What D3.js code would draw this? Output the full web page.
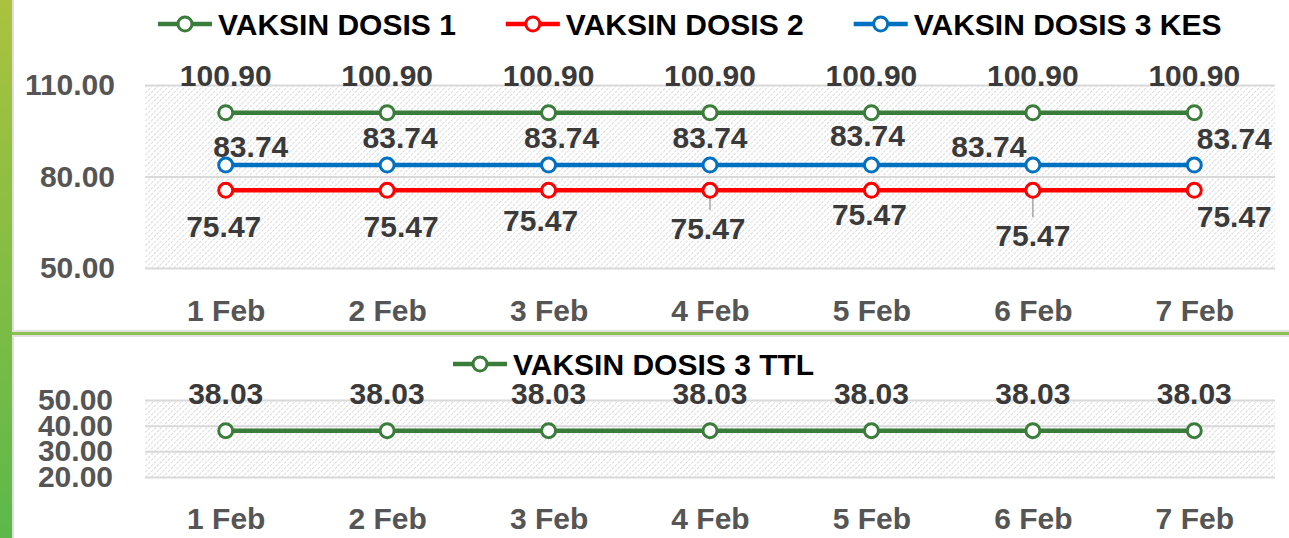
<!DOCTYPE html>
<html>
<head>
<meta charset="utf-8">
<script src="https://cdn.jsdelivr.net/npm/d3@7"></script>
<style>
  body { margin: 0; background: #fff; }
  svg text { font-family: "Liberation Sans", Arial, sans-serif; font-weight: bold; }
</style>
</head>
<body>
<svg id="chart" width="1289" height="538"></svg>
<script>
// data
const dates = ["1 Feb", "2 Feb", "3 Feb", "4 Feb", "5 Feb", "6 Feb", "7 Feb"];
const dosis1 = [100.90, 100.90, 100.90, 100.90, 100.90, 100.90, 100.90];
const dosis2 = [75.47, 75.47, 75.47, 75.47, 75.47, 75.47, 75.47];
const dosis3kes = [83.74, 83.74, 83.74, 83.74, 83.74, 83.74, 83.74];
const dosis3ttl = [38.03, 38.03, 38.03, 38.03, 38.03, 38.03, 38.03];
const topTicks = [50, 80, 110];
const bottomTicks = [20, 30, 40, 50];

// label nudges (dragged labels in the original), px relative to the point
const kesLabelShift = [[25, -19], [13, -28], [13, -28], [0, -28], [-4, -30], [-44, -19], [40, -27]];
const d2LabelShift = [[-2, 36], [14, 36], [-8, 30], [-2, 38], [-2, 24], [0, 45], [40, 26]];

const svg = d3.select("#chart");
const W = 1289, H = 538;
const green = "#3a7d3a", red = "#ff0000", blue = "#0070c0";
const labelCol = "#3a3a3a", axisCol = "#555555";

const defs = svg.append("defs");
const grad = defs.append("linearGradient").attr("id", "sidebar")
    .attr("x1", 0).attr("y1", 0).attr("x2", 0).attr("y2", 1);
grad.append("stop").attr("offset", "0%").attr("stop-color", "#abc23e");
grad.append("stop").attr("offset", "100%").attr("stop-color", "#5cb84b");

const hatch = defs.append("pattern").attr("id", "hatch")
    .attr("patternUnits", "userSpaceOnUse")
    .attr("width", 4).attr("height", 4)
    .attr("patternTransform", "rotate(45)");
hatch.append("line")
    .attr("x1", 0).attr("y1", 0).attr("x2", 0).attr("y2", 4)
    .attr("stroke", "#c9c9c9").attr("stroke-width", 1.3)
    .attr("stroke-dasharray", "3,1");

// side bar + panel separators
svg.append("rect").attr("x", 0).attr("y", 0).attr("width", 12).attr("height", H)
    .attr("fill", "url(#sidebar)");
svg.append("rect").attr("x", 12).attr("y", 0).attr("width", 2).attr("height", H)
    .attr("fill", "#dedede");
svg.append("rect").attr("x", 12).attr("y", 330).attr("width", W).attr("height", 7)
    .attr("fill", "#e0e0e0");
svg.append("rect").attr("x", 12).attr("y", 332).attr("width", W).attr("height", 3)
    .attr("fill", "#8cc04f");

const x = d3.scalePoint().domain(dates).range([145, 1275]).padding(0.5);

function styleText(sel, col) {
    sel.attr("fill", col).style("font-size", "30px")
        .style("font-family", "'Liberation Sans', Arial, sans-serif").style("font-weight", "bold");
}

function panel(cfg) {
    const g = svg.append("g");
    const y = d3.scaleLinear().domain(cfg.domain).range([cfg.bottom, cfg.top]);

    g.append("rect")
        .attr("x", 145).attr("y", cfg.top)
        .attr("width", 1130).attr("height", cfg.bottom - cfg.top)
        .attr("fill", "url(#hatch)");

    // gridlines
    g.append("g")
        .attr("transform", "translate(145,0)")
        .call(d3.axisLeft(y).tickValues(cfg.ticks).tickSize(-1130).tickFormat(""))
        .call(a => a.select(".domain").remove())
        .call(a => a.selectAll("line").attr("stroke", "#d9d9d9").attr("stroke-width", 2));

    // y labels
    g.append("g")
        .attr("transform", "translate(" + cfg.yLabelX + ",0)")
        .call(d3.axisLeft(y).tickValues(cfg.ticks).tickSize(0).tickPadding(0).tickFormat(d3.format(".2f")))
        .call(a => a.select(".domain").remove())
        .call(a => styleText(a.selectAll("text"), axisCol));

    // x labels
    g.append("g")
        .attr("transform", "translate(0," + cfg.bottom + ")")
        .call(d3.axisBottom(x).tickSize(0).tickPadding(cfg.xPad))
        .call(a => a.select(".domain").remove())
        .call(a => styleText(a.selectAll("text"), axisCol));

    cfg.series.forEach(s => {
        const line = d3.line().x((d, i) => x(dates[i])).y(d => y(d));
        g.append("path").datum(s.values)
            .attr("d", line).attr("fill", "none")
            .attr("stroke", s.color).attr("stroke-width", 4.5);

        // leader lines
        s.values.forEach((v, i) => {
            if (s.leader && s.leader[i]) {
                g.append("line")
                    .attr("x1", x(dates[i])).attr("y1", y(v))
                    .attr("x2", x(dates[i])).attr("y2", y(v) + s.shift(i)[1] - 18)
                    .attr("stroke", "#a6a6a6").attr("stroke-width", 1.5);
            }
        });

        g.selectAll(null).data(s.values).enter().append("circle")
            .attr("cx", (d, i) => x(dates[i])).attr("cy", d => y(d))
            .attr("r", 7).attr("fill", "#fff")
            .attr("stroke", s.color).attr("stroke-width", 3);

        g.selectAll(null).data(s.values).enter().append("text")
            .attr("x", (d, i) => x(dates[i]) + s.shift(i)[0])
            .attr("y", (d, i) => y(d) + s.shift(i)[1])
            .attr("text-anchor", "middle").attr("dy", "0.36em")
            .attr("fill", labelCol).style("font-size", "30px")
            .text(d => d3.format(".2f")(d));
    });

    // legend
    let lx = cfg.legendX;
    cfg.series.forEach(s => {
        const lg = g.append("g").attr("transform", "translate(" + lx + "," + cfg.legendY + ")");
        lg.append("line").attr("x1", 0).attr("x2", 54).attr("y1", 0).attr("y2", 0)
            .attr("stroke", s.color).attr("stroke-width", 4.5);
        lg.append("circle").attr("cx", 27).attr("cy", 0).attr("r", 7)
            .attr("fill", "#fff").attr("stroke", s.color).attr("stroke-width", 3);
        const t = lg.append("text").attr("x", 60).attr("y", 11)
            .attr("fill", "#000").style("font-size", "30px").text(s.name);
        lx += 60 + t.node().getComputedTextLength() + 50;
    });
}

panel({
    domain: [50, 110], ticks: topTicks, top: 85, bottom: 268,
    yLabelX: 115, xPad: 32, legendX: 158, legendY: 24,
    series: [
        { name: "VAKSIN DOSIS 1", color: green, values: dosis1, shift: () => [0, -38] },
        { name: "VAKSIN DOSIS 2", color: red, values: dosis2, shift: i => d2LabelShift[i],
          leader: [false, false, false, true, false, true, false] },
        { name: "VAKSIN DOSIS 3 KES", color: blue, values: dosis3kes, shift: i => kesLabelShift[i] }
    ]
});

panel({
    domain: [20, 50], ticks: bottomTicks, top: 400, bottom: 477,
    yLabelX: 113, xPad: 31, legendX: 453, legendY: 364,
    series: [
        { name: "VAKSIN DOSIS 3 TTL", color: green, values: dosis3ttl, shift: () => [0, -38] }
    ]
});
</script>
</body>
</html>
